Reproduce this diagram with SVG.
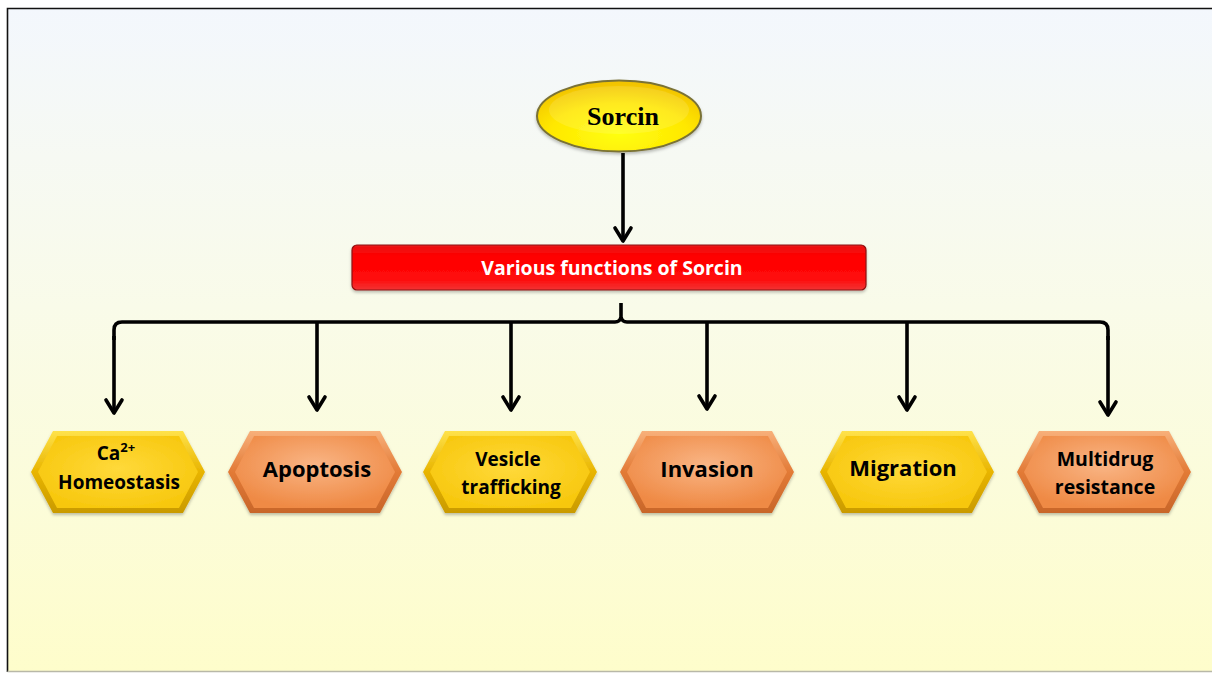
<svg xmlns="http://www.w3.org/2000/svg" width="1212" height="673" viewBox="0 0 1212 673">
<defs>
<linearGradient id="bg" x1="0" y1="0" x2="0" y2="1">
<stop offset="0" stop-color="#F3F7FD"/>
<stop offset="0.45" stop-color="#F9FBE9"/>
<stop offset="1" stop-color="#FEFDCB"/>
</linearGradient>
<radialGradient id="ellG" cx="0.5" cy="0.75" r="0.7">
<stop offset="0" stop-color="#FFFF10"/>
<stop offset="0.6" stop-color="#FFE800"/>
<stop offset="1" stop-color="#F2C400"/>
</radialGradient>
<linearGradient id="barG" x1="0" y1="0" x2="0" y2="1">
<stop offset="0" stop-color="#E81515"/>
<stop offset="0.25" stop-color="#FF0000"/>
<stop offset="0.75" stop-color="#FF0A0A"/>
<stop offset="1" stop-color="#F23535"/>
</linearGradient>
<linearGradient id="yOut" x1="0" y1="0" x2="0" y2="1">
<stop offset="0" stop-color="#FFE24A"/>
<stop offset="0.5" stop-color="#E8B400"/>
<stop offset="1" stop-color="#C99A00"/>
</linearGradient>
<radialGradient id="yIn" cx="0.5" cy="0.45" r="0.6">
<stop offset="0" stop-color="#FFD93A"/>
<stop offset="1" stop-color="#F7C70C"/>
</radialGradient>
<linearGradient id="oOut" x1="0" y1="0" x2="0" y2="1">
<stop offset="0" stop-color="#F8B07A"/>
<stop offset="0.5" stop-color="#E27A36"/>
<stop offset="1" stop-color="#C8662A"/>
</linearGradient>
<radialGradient id="oIn" cx="0.5" cy="0.4" r="0.6">
<stop offset="0" stop-color="#F9B585"/>
<stop offset="1" stop-color="#EF8A45"/>
</radialGradient>
<filter id="sh" x="-10%" y="-10%" width="120%" height="130%">
<feDropShadow dx="0" dy="2" stdDeviation="1.5" flood-color="#000" flood-opacity="0.25"/>
</filter>
<polygon id="hexO" points="-87,0 -65,-41 65,-41 87,0 65,41 -65,41"/>
<polygon id="hexI" points="-80,0 -61,-36 61,-36 80,0 61,36 -61,36"/>
<marker id="arr" markerUnits="userSpaceOnUse" markerWidth="24" markerHeight="24" viewBox="-20 -12 24 24" refX="0" refY="0" orient="auto">
<path d="M-13,-8 L0,0 L-13,8" fill="none" stroke="#000" stroke-width="3.6" stroke-linecap="round" stroke-linejoin="round"/>
</marker>
</defs>
<style>
.lbl{font-family:"Open Sans","Liberation Sans",sans-serif;font-weight:bold;fill:#000;text-anchor:middle}
.con{fill:none;stroke:#000;stroke-width:3.6}
.ya{fill:url(#yOut)}
.yb{fill:url(#yIn)}
.oa{fill:url(#oOut)}
.ob{fill:url(#oIn)}
</style>
<rect x="7" y="8" width="1210" height="664" fill="url(#bg)"/>
<path d="M7.5,672 V8.5 H1212" fill="none" stroke="#111" stroke-width="1.6"/>
<path d="M7.5,671.5 H1212" fill="none" stroke="#B8B8A8" stroke-width="1.5"/>

<g id="sorcin">
<ellipse cx="619" cy="116" rx="82" ry="35.5" fill="url(#ellG)" stroke="#7A7236" stroke-width="2" filter="url(#sh)"/>
<ellipse cx="619" cy="110" rx="70" ry="24" fill="#FFF" opacity="0.12"/>
<text x="623" y="125" style="font-family:'Liberation Serif','Times New Roman',serif;font-weight:bold;font-size:26px;fill:#000;text-anchor:middle">Sorcin</text>
</g>

<g id="functions">
<rect x="352" y="245" width="514" height="45" rx="5" fill="url(#barG)" stroke="#8E1010" stroke-width="1.2" filter="url(#sh)"/>
<text x="612" y="275" style="font-family:'Open Sans','Liberation Sans',sans-serif;font-weight:bold;font-size:19.5px;fill:#FFF;text-anchor:middle">Various functions of Sorcin</text>
</g>

<g id="connectors">
<path class="con" d="M623,153 V241" marker-end="url(#arr)"/>
<path class="con" d="M114,340 V330 Q114,322 122,322 H615 Q620,322 621,317 V303 M621,317 Q622,322 627,322 H1100 Q1108,322 1108,330 V340"/>
<path class="con" d="M114,336 V413" marker-end="url(#arr)"/>
<path class="con" d="M317,322 V410" marker-end="url(#arr)"/>
<path class="con" d="M511,322 V410" marker-end="url(#arr)"/>
<path class="con" d="M707,322 V409" marker-end="url(#arr)"/>
<path class="con" d="M907,322 V410" marker-end="url(#arr)"/>
<path class="con" d="M1108,336 V415" marker-end="url(#arr)"/>
</g>

<g id="ca" transform="translate(118,472)" filter="url(#sh)">
<use href="#hexO" class="ya"/><use href="#hexI" class="yb"/>
</g>
<text class="lbl" x="116" y="460" font-size="19">Ca<tspan font-size="13" dy="-8">2+</tspan></text>
<text class="lbl" x="119" y="489" font-size="19">Homeostasis</text>

<g id="apoptosis" transform="translate(315,472)" filter="url(#sh)">
<use href="#hexO" class="oa"/><use href="#hexI" class="ob"/>
</g>
<text class="lbl" x="317" y="477" font-size="22">Apoptosis</text>

<g id="vesicle" transform="translate(510,472)" filter="url(#sh)">
<use href="#hexO" class="ya"/><use href="#hexI" class="yb"/>
</g>
<text class="lbl" x="508" y="466" font-size="19">Vesicle</text>
<text class="lbl" x="511" y="494" font-size="19">trafficking</text>

<g id="invasion" transform="translate(707,472)" filter="url(#sh)">
<use href="#hexO" class="oa"/><use href="#hexI" class="ob"/>
</g>
<text class="lbl" x="707" y="477" font-size="22">Invasion</text>

<g id="migration" transform="translate(907,472)" filter="url(#sh)">
<use href="#hexO" class="ya"/><use href="#hexI" class="yb"/>
</g>
<text class="lbl" x="903" y="476" font-size="22">Migration</text>

<g id="multidrug" transform="translate(1104,472)" filter="url(#sh)">
<use href="#hexO" class="oa"/><use href="#hexI" class="ob"/>
</g>
<text class="lbl" x="1105" y="466" font-size="19.5">Multidrug</text>
<text class="lbl" x="1105" y="494" font-size="19.5">resistance</text>
</svg>
